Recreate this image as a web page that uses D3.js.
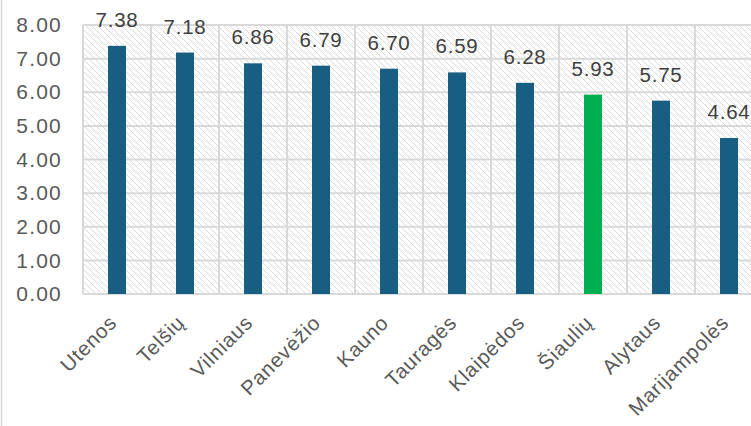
<!DOCTYPE html>
<html><head><meta charset="utf-8">
<script src="https://cdn.jsdelivr.net/npm/d3@7"></script>
<style>body{margin:0;background:#fff}svg{display:block}</style>
</head><body>
<script>
const categories = ["Utenos","Telšių","Vilniaus","Panevėžio","Kauno","Tauragės","Klaipėdos","Šiaulių","Alytaus","Marijampolės"];
const values = [7.38,7.18,6.86,6.79,6.70,6.59,6.28,5.93,5.75,4.64];
const highlight = "Šiaulių";
const yTicks = [0,1,2,3,4,5,6,7,8];

(function(){
const W = 751, H = 426;
const FONT = "Liberation Sans, Arial, sans-serif";
const svg = d3.select("body").append("svg").attr("width", W).attr("height", H);
const mLeft = 83, mTop = 25, mBottom = 294, bandW = 68;
const x = d3.scaleBand().domain(categories).range([mLeft, mLeft + bandW*categories.length]).paddingInner(0).paddingOuter(0);
const y = d3.scaleLinear().domain([0,8]).range([mBottom, mTop]);

const defs = svg.append("defs");
const pat = defs.append("pattern").attr("id","hatch").attr("patternUnits","userSpaceOnUse")
  .attr("width",6).attr("height",6);
pat.append("rect").attr("width",6).attr("height",6).attr("fill","#fff");
pat.append("path").attr("d","M-1,-1 L7,7 M-1,5 L1,7 M5,-1 L7,1").attr("stroke","#dadada").attr("stroke-width",1);

svg.append("line").attr("x1",1.5).attr("x2",1.5).attr("y1",0).attr("y2",H).attr("stroke","#d9d9d9").attr("stroke-width",1.5);

svg.append("rect").attr("x",mLeft).attr("y",mTop).attr("width",bandW*categories.length).attr("height",mBottom-mTop).attr("fill","url(#hatch)");

const g = svg.append("g");
g.selectAll(".h").data(yTicks).join("line")
  .attr("x1",mLeft).attr("x2",mLeft + bandW*categories.length)
  .attr("y1",d=>y(d)).attr("y2",d=>y(d)).attr("stroke","#d9d9d9").attr("stroke-width",2);
g.selectAll(".v").data(categories.concat(["__end"])).join("line")
  .attr("x1",(d,i)=>mLeft + i*bandW).attr("x2",(d,i)=>mLeft + i*bandW)
  .attr("y1",mTop).attr("y2",mBottom).attr("stroke","#d9d9d9").attr("stroke-width",2);

const yAxis = d3.axisLeft(y).tickValues(yTicks).tickFormat(d3.format(".2f")).tickSize(0).tickPadding(21);
const ya = svg.append("g").attr("transform",`translate(${mLeft},0)`).call(yAxis);
ya.select(".domain").remove();
ya.selectAll("text").attr("font-family",FONT).attr("font-size",21).attr("fill","#595959").attr("letter-spacing","1.2px");

const barW = 18;
svg.selectAll(".bar").data(values).join("rect")
  .attr("x",(d,i)=>x(categories[i]) + bandW/2 - barW/2)
  .attr("width",barW)
  .attr("y",d=>y(d)).attr("height",d=>mBottom - y(d))
  .attr("fill",(d,i)=>categories[i]===highlight ? "#00B050" : "#175E82");

svg.selectAll(".vl").data(values).join("text")
  .attr("x",(d,i)=>x(categories[i]) + bandW/2)
  .attr("y",d=>y(d) - 19)
  .attr("text-anchor","middle")
  .attr("font-family",FONT).attr("font-size",20.5).attr("fill","#404040").attr("letter-spacing","0.8px")
  .text(d=>d3.format(".2f")(d));

const xAxis = d3.axisBottom(x).tickSize(0).tickPadding(0);
const xa = svg.append("g").attr("transform",`translate(0,${mBottom})`).call(xAxis);
xa.select(".domain").remove();
xa.selectAll("text")
  .attr("font-family",FONT).attr("font-size",20.5).attr("fill","#595959").attr("letter-spacing","0.8px")
  .attr("text-anchor","end").attr("dy","0")
  .attr("transform","translate(1,30) rotate(-45)");
})();
</script>
</body></html>
